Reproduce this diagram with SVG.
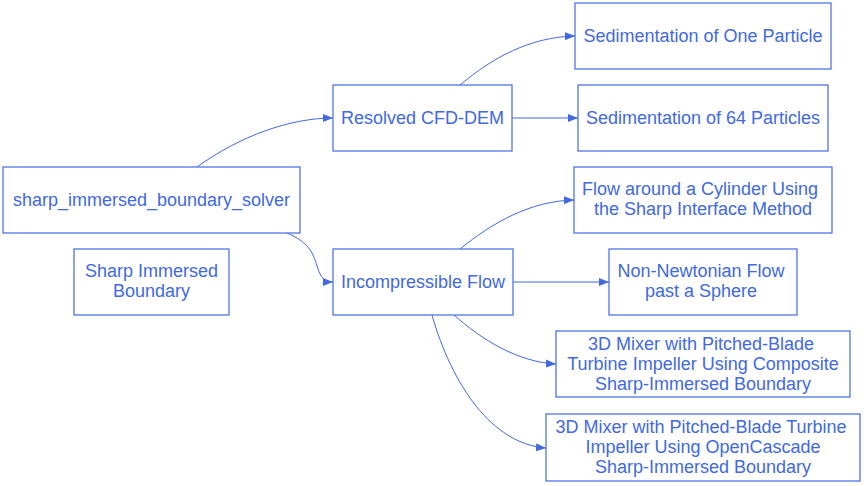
<svg xmlns="http://www.w3.org/2000/svg" width="864" height="486" viewBox="0 0 864 486">
<style>
rect{fill:#fff;stroke:#4169e1;stroke-width:1.2}
text{font-family:"Liberation Sans",Arial,sans-serif;font-size:18px;fill:#4169e1;text-anchor:middle}
.e path{fill:none;stroke:#4169e1;stroke-width:1}
</style>
<defs>
<marker id="a" markerUnits="userSpaceOnUse" markerWidth="12" markerHeight="10" refX="10" refY="4" orient="auto">
<path d="M0,0 L10,4 L0,8 Z" fill="#4169e1"/>
</marker>
</defs>
<rect x="0" y="0" width="864" height="486" style="stroke:none"/>
<g class="e">
<path d="M197,167 C240,136 290,118 333,118" marker-end="url(#a)"/>
<path d="M287,233 C308,242 313,252 317,266 C321,279 325,282 333,282" marker-end="url(#a)"/>
<path d="M460,85 C492,58 530,37 575,36" marker-end="url(#a)"/>
<path d="M512,118 L578,118" marker-end="url(#a)"/>
<path d="M460,249 C492,223 530,201 574,200" marker-end="url(#a)"/>
<path d="M513,282 L609,282" marker-end="url(#a)"/>
<path d="M454,315 C482,340 518,362 556,364" marker-end="url(#a)"/>
<path d="M432,315 C452,385 492,444 546,448" marker-end="url(#a)"/>
</g>
<g id="solver"><rect x="3" y="167" width="297" height="66"/><text x="151.5" y="206">sharp_immersed_boundary_solver</text></g>
<g id="sib"><rect x="74" y="249" width="155" height="66"/><text x="151.5" y="277">Sharp Immersed </text><text x="151.5" y="297">Boundary</text></g>
<g id="cfddem"><rect x="333" y="85" width="179" height="66"/><text x="422.5" y="124">Resolved CFD-DEM</text></g>
<g id="incomp"><rect x="333" y="249" width="180" height="66"/><text x="423" y="288">Incompressible Flow</text></g>
<g id="sed1"><rect x="575" y="3" width="256" height="66"/><text x="703" y="42">Sedimentation of One Particle</text></g>
<g id="sed64"><rect x="578" y="85" width="250" height="66"/><text x="703" y="124">Sedimentation of 64 Particles</text></g>
<g id="cyl"><rect x="574" y="167" width="258" height="66"/><text x="700" y="195">Flow around a Cylinder Using</text><text x="703" y="215">the Sharp Interface Method</text></g>
<g id="nonnewt"><rect x="609" y="249" width="188" height="66"/><text x="701" y="277">Non-Newtonian Flow</text><text x="701" y="297">past a Sphere</text></g>
<g id="mix1"><rect x="556" y="331" width="294" height="66"/><text x="701" y="350">3D Mixer with Pitched-Blade</text><text x="703" y="370">Turbine Impeller Using Composite</text><text x="703" y="390">Sharp-Immersed Boundary</text></g>
<g id="mix2"><rect x="546" y="414" width="314" height="67"/><text x="701" y="433">3D Mixer with Pitched-Blade Turbine</text><text x="703" y="453">Impeller Using OpenCascade</text><text x="703" y="473">Sharp-Immersed Boundary</text></g>
</svg>
